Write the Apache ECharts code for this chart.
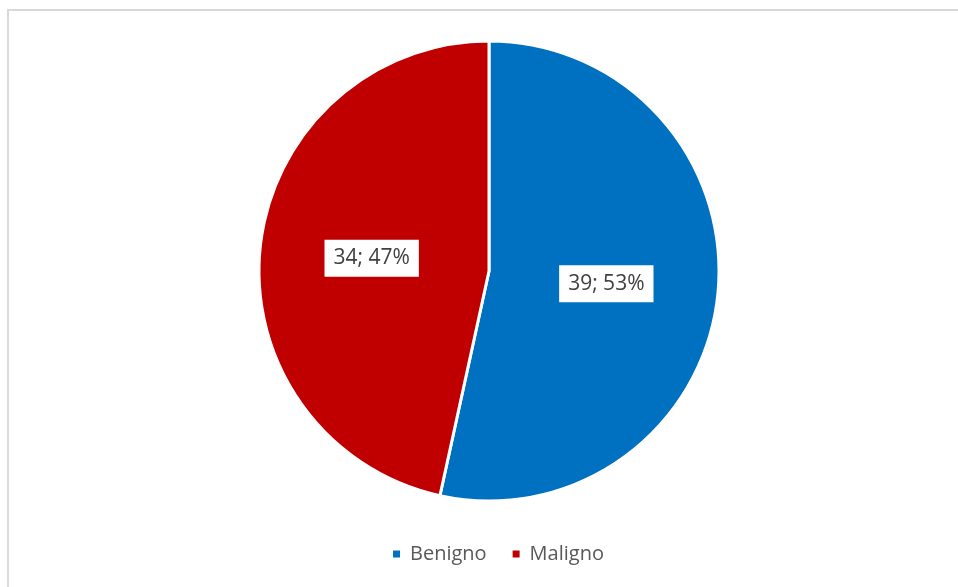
<!DOCTYPE html>
<html>
<head>
<meta charset="utf-8">
<script src="https://cdn.jsdelivr.net/npm/echarts@6/dist/echarts.min.js"></script>
<style>
  html, body { margin: 0; padding: 0; background: #ffffff; }
  #chart { width: 958px; height: 587px; }
</style>
</head>
<body>
<div id="chart"></div>
<script>
// Diagnosis categories and counts
const categories = ['Benigno', 'Maligno'];
const counts = [39, 34];
const colors = ['#0070c0', '#c00000'];

const chart = echarts.init(document.getElementById('chart'), null, { renderer: 'canvas' });

const total = counts.reduce((a, b) => a + b, 0);

chart.setOption({
  animation: false,
  backgroundColor: '#ffffff',
  graphic: [{
    type: 'rect',
    shape: { x: 8, y: 10, width: 980, height: 620 },
    style: { fill: 'none', stroke: '#d9d9d9', lineWidth: 2 },
    silent: true
  }],
  legend: {
    data: categories,
    bottom: 18,
    left: 386,
    icon: 'rect',
    itemWidth: 9,
    itemHeight: 9,
    itemGap: 24,
    textStyle: {
      fontFamily: 'Open Sans',
      fontSize: 20,
      color: '#595959',
      padding: [0, 0, 0, 4]
    }
  },
  series: [{
    type: 'pie',
    center: [489, 271],
    radius: 230,
    startAngle: 90,
    clockwise: true,
    data: categories.map((name, i) => ({
      name,
      value: counts[i],
      itemStyle: { color: colors[i] }
    })),
    itemStyle: { borderColor: '#ffffff', borderWidth: 3 },
    label: {
      show: true,
      position: 'inside',
      formatter: (p) => p.value + '; ' + Math.round(p.value / total * 100) + '%',
      fontFamily: 'Open Sans',
      fontSize: 21,
      color: '#404040',
      backgroundColor: '#ffffff',
      padding: [8, 9, 8, 9]
    },
    labelLine: { show: false },
    emphasis: { disabled: true }
  }]
});
</script>
</body>
</html>
